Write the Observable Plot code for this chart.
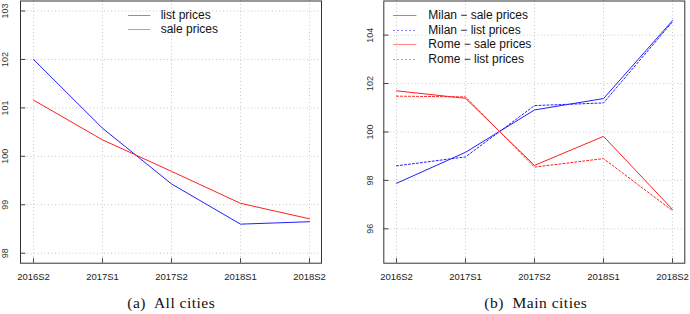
<!DOCTYPE html>
<html>
<head>
<meta charset="utf-8">
<script src="https://cdn.jsdelivr.net/npm/d3@7"></script>
<script src="https://cdn.jsdelivr.net/npm/@observablehq/plot@0.6"></script>
<style>
  html, body { margin: 0; padding: 0; background: #fff; }
  #wrap { position: relative; width: 690px; height: 314px; overflow: hidden; font-family: "Liberation Sans", Arial, sans-serif; }
  .panel { position: absolute; top: 0; }
  .caption { position: absolute; top: 294px; font-family: "Liberation Serif", "DejaVu Serif", serif; font-size: 15.5px; color: #111; white-space: pre; transform: translateX(-50%); letter-spacing: 0.5px; }
  .legend { position: absolute; font-size: 12px; color: #111; }
  .legend .row { position: absolute; left: 0; white-space: nowrap; height: 14px; line-height: 14px; }
  .legend svg { position: absolute; left: 0; top: 0; overflow: visible; }
</style>
</head>
<body>
<div id="wrap"></div>
<script>
// ---- data ----
const periods = ["2016S2", "2017S1", "2017S2", "2018S1", "2018S2"];

// panel (a): all cities
const allList = [102.00, 100.58, 99.43, 98.60, 98.65];
const allSale = [101.16, 100.34, 99.69, 99.03, 98.71];
const yTicksA = [98, 99, 100, 101, 102, 103];

// panel (b): main cities
const milanSale = [97.88, 99.16, 100.91, 101.38, 104.60];
const milanList = [98.60, 98.97, 101.09, 101.20, 104.55];
const romeSale  = [101.70, 101.39, 98.62, 99.82, 96.80];
const romeList  = [101.48, 101.45, 98.55, 98.90, 96.75];
const yTicksB = [96, 98, 100, 102, 104];

const seriesA = [
  {name: "list prices", values: allList, color: "#1f1fff", dash: null},
  {name: "sale prices", values: allSale, color: "#ff1f1f", dash: null}
];
const seriesB = [
  {name: "Milan \u2212 sale prices", values: milanSale, color: "#1f1fff", dash: null},
  {name: "Milan \u2212 list prices", values: milanList, color: "#1f1fff", dash: "2,2"},
  {name: "Rome \u2212 sale prices", values: romeSale, color: "#ff1f1f", dash: null},
  {name: "Rome \u2212 list prices", values: romeList, color: "#ff1f1f", dash: "2,2"}
];

function toRows(series) {
  return series.flatMap(s => s.values.map((v, i) => ({series: s.name, period: periods[i], value: v})));
}

function panel({series, yDomain, yTicks, marginLeft, marginRight, yLabelDx}) {
  const W = 345, H = 290, mt = 0.5, mb = 27.3;
  const plotW = W - marginLeft - marginRight;
  const plotH = H - mt - mb;
  const rows = toRows(series);
  const marks = [
    Plot.gridY(yTicks, {stroke: "#c8c8c8", strokeOpacity: 1, strokeDasharray: "1,2.5"}),
    Plot.gridX(periods, {stroke: "#c8c8c8", strokeOpacity: 1, strokeDasharray: "1,2.5"}),
    Plot.tickY(yTicks, {y: d => d, stroke: "#444", insetRight: plotW - 5.3}),
    Plot.tickX(periods, {x: d => d, stroke: "#444", insetTop: plotH - 4.5}),
    Plot.text(yTicks, {y: d => d, text: d => String(d), frameAnchor: "left", dx: yLabelDx, rotate: -90, textAnchor: "middle", lineAnchor: "middle", fontSize: 9, fill: "#333"}),
    Plot.text(periods, {x: d => d, text: d => d, frameAnchor: "bottom", dy: 14, lineAnchor: "middle", fontSize: 9.5, fill: "#222"})
  ];
  for (const s of series) {
    marks.push(Plot.line(rows.filter(r => r.series === s.name), {
      x: "period", y: "value", stroke: s.color, strokeWidth: 1,
      strokeDasharray: s.dash
    }));
  }
  marks.push(Plot.frame({stroke: "#333", strokeWidth: 1}));
  return Plot.plot({
    width: W, height: H,
    marginTop: mt, marginBottom: mb, marginLeft, marginRight,
    style: {fontFamily: "'Liberation Sans', Arial, sans-serif", background: "transparent"},
    x: {type: "point", domain: periods, padding: 0.16, axis: null},
    y: {domain: yDomain, axis: null},
    marks
  });
}

function legend(parent, series, left, top, step, lineW, textGap) {
  const lg = document.createElement("div");
  lg.className = "legend";
  lg.style.left = left + "px";
  lg.style.top = top + "px";
  series.forEach((s, i) => {
    const row = document.createElement("div");
    row.className = "row";
    row.style.top = (i * step - 7) + "px";
    const svg = `<svg width="${lineW}" height="14"><line x1="0" x2="${lineW}" y1="7.5" y2="7.5" stroke="${s.color}" stroke-opacity="0.55" stroke-width="1" ${s.dash ? `stroke-dasharray="${s.dash}"` : ""}/></svg>`;
    row.innerHTML = svg + `<span style="position:absolute;left:${lineW + textGap}px;top:0">${s.name}</span>`;
    lg.appendChild(row);
  });
  parent.appendChild(lg);
}

const wrap = document.getElementById("wrap");

const pa = panel({series: seriesA, yDomain: [97.794, 103.206], yTicks: yTicksA, marginLeft: 20, marginRight: 24, yLabelDx: -15});
pa.classList.add("panel"); pa.style.left = "0px";
wrap.appendChild(pa);

const pb = panel({series: seriesB, yDomain: [94.58, 105.41], yTicks: yTicksB, marginLeft: 38.3, marginRight: 5.7, yLabelDx: -14});
pb.classList.add("panel"); pb.style.left = "345px";
wrap.appendChild(pb);

legend(wrap, seriesA, 127.7, 14.7, 14.6, 22.3, 10.7);
legend(wrap, seriesB, 393.3, 14.7, 14.9, 23.4, 11.6);

const capA = document.createElement("div");
capA.className = "caption"; capA.style.left = "171.3px"; capA.textContent = "(a)  All cities";
wrap.appendChild(capA);
const capB = document.createElement("div");
capB.className = "caption"; capB.style.left = "535.8px"; capB.textContent = "(b)  Main cities";
wrap.appendChild(capB);
</script>
</body>
</html>
